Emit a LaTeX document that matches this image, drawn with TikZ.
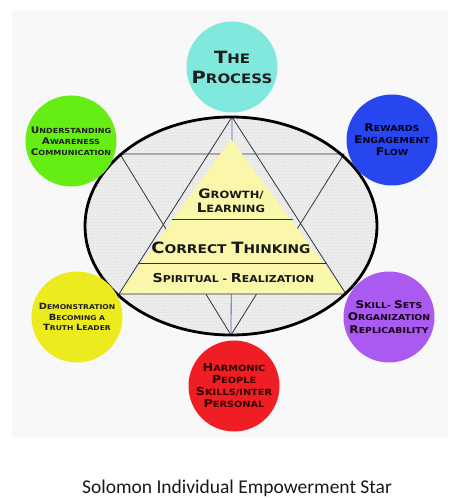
\documentclass[tikz,border=0pt]{standalone}
\usepackage{fontspec}
\usepackage{graphicx}
\setmainfont{Carlito}
\newfontfamily\cg{DejaVu Sans}[FakeStretch=1.15]
\newcommand\In[1]{\scalebox{1.3}{#1}}
\definecolor{cCyan}{RGB}{128,232,220}
\definecolor{cGreen}{RGB}{102,238,20}
\definecolor{cBlue}{RGB}{40,70,240}
\definecolor{cYellow}{RGB}{235,235,30}
\definecolor{cPurple}{RGB}{170,90,240}
\definecolor{cRed}{RGB}{238,30,36}
\definecolor{cTri}{RGB}{250,246,170}
\definecolor{cBack}{RGB}{248,248,248}
\definecolor{cEll}{RGB}{238,238,238}
\definecolor{cGrid}{RGB}{231,231,231}
\definecolor{cAxis}{RGB}{90,90,170}
\tikzset{
  circ/.style={circle, minimum size=91pt, inner sep=0pt, align=center, text=black!88},
  starline/.style={draw=black!80, line width=0.8pt},
  tritext/.style={align=center, text=black!90, inner sep=0pt},
}
\begin{document}
\begin{tikzpicture}[x=1pt,y=-1pt]
\useasboundingbox (0,0) rectangle (451,500);
\fill[white] (0,0) rectangle (451,500);
\fill[cBack] (12,10) rectangle (448,438);
% ellipse
\fill[cEll] (231,226) ellipse [x radius=146, y radius=109];
\begin{scope}
  \clip (231,226) ellipse [x radius=146, y radius=109];
  \draw[cGrid, line width=0.25pt, step=3pt] (80,110) grid (385,340);
\end{scope}
% star coordinates
\coordinate (A) at (232,117);
\coordinate (BL) at (119,294);
\coordinate (BR) at (346,294);
\coordinate (TL) at (120,154);
\coordinate (TR) at (344,154);
\coordinate (D) at (231,335);
\coordinate (Y) at (231,139);
\coordinate (L1a) at (172,219);
\coordinate (L1b) at (293,219);
\coordinate (L2a) at (139,263);
\coordinate (L2b) at (327,263);
% down triangle and axis
\draw[starline] (TL) -- (TR) -- (D) -- cycle;
\draw[cAxis, line width=0.8pt] (A) -- (D);
% yellow triangle
\fill[cTri] (Y) -- (BL) -- (BR) -- cycle;
% up triangle
\draw[starline] (A) -- (BL) -- (BR) -- cycle;
\draw[starline] (L1a) -- (L1b);
\draw[starline] (L2a) -- (L2b);
% ellipse border
\draw[black, line width=2.8pt] (231,226) ellipse [x radius=146, y radius=109];
% triangle texts
\node[tritext, font=\cg\bfseries\fontsize{10}{14}\selectfont] (grow) at (231,201) {\In{G}ROWTH/\\\In{L}EARNING};
\node[tritext, font=\cg\bfseries\fontsize{12}{14}\selectfont] (correct) at (231,248) {\In{C}ORRECT \In{T}HINKING};
\node[tritext, font=\cg\bfseries\fontsize{9.5}{12}\selectfont] (spirit) at (233.5,278) {\In{S}PIRITUAL - \In{R}EALIZATION};
% circles
\node[circ, fill=cCyan, font=\cg\bfseries\fontsize{13}{20}\selectfont] (process) at (232,67) {\In{T}HE\\\In{P}ROCESS};
\node[circ, fill=cGreen, font=\cg\bfseries\fontsize{7}{11}\selectfont] (underst) at (71,141) {\In{U}NDERSTANDING\\\In{A}WARENESS\\\In{C}OMMUNICATION};
\node[circ, fill=cBlue, text=black!90!blue, font=\cg\bfseries\fontsize{8.2}{12}\selectfont] (rewards) at (392,140) {\In{R}EWARDS\\\In{E}NGAGEMENT\\\In{F}LOW};
\node[circ, fill=cYellow, font=\cg\bfseries\fontsize{6.6}{10.5}\selectfont] (demo) at (77,317) {\In{D}EMONSTRATION\\\In{B}ECOMING A\\\In{T}RUTH \In{L}EADER};
\node[circ, fill=cPurple, text=black!85!violet, font=\cg\bfseries\fontsize{8.1}{12.5}\selectfont] (skills) at (389,317) {\In{S}KILL- \In{S}ETS\\\In{O}RGANIZATION\\\In{R}EPLICABILITY};
\node[circ, fill=cRed, text=black!80!red, font=\cg\bfseries\fontsize{8.5}{12}\selectfont] (harmonic) at (234,386) {\In{H}ARMONIC\\\In{P}EOPLE\\\In{S}KILLS/INTER\\\In{P}ERSONAL};
% caption
\node[anchor=base, inner sep=0pt, font=\fontsize{19.5}{22}\selectfont, text=black!90] (caption) at (237,493) {Solomon Individual Empowerment Star};
\end{tikzpicture}
\end{document}
